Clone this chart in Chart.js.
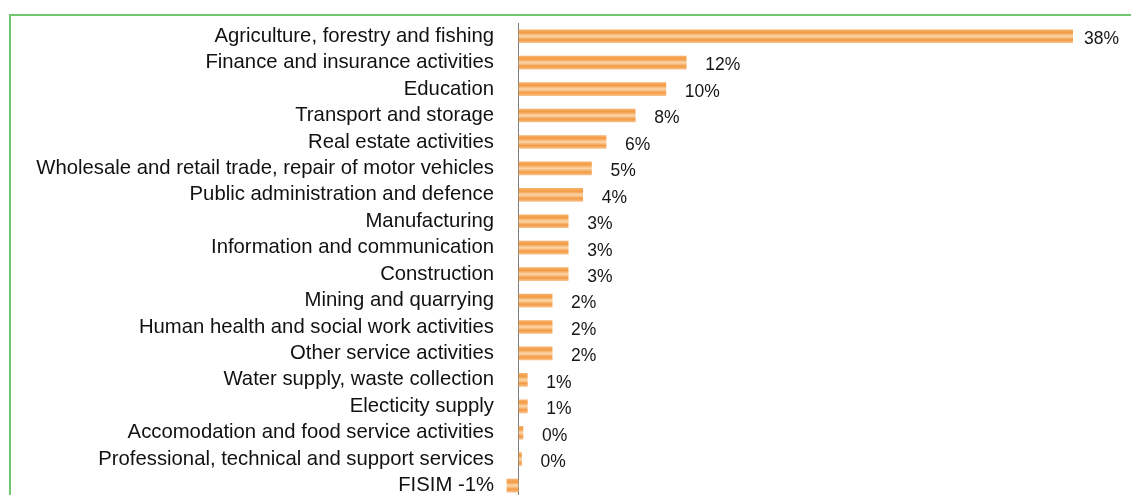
<!DOCTYPE html>
<html>
<head>
<meta charset="utf-8">
<script src="https://cdn.jsdelivr.net/npm/chart.js@4/dist/chart.umd.min.js"></script>
<style>
  html, body { margin: 0; padding: 0; background: #fff; overflow: hidden; }
  #wrap { position: absolute; left: 0; top: 0; width: 1131px; height: 521px; }
  #frame { position: absolute; left: 9px; top: 14px; width: 1200px; height: 600px;
           border-left: 2px solid #72c672; border-top: 2px solid #72c672; }
</style>
</head>
<body>
<div id="frame"></div>
<div id="wrap"><canvas id="sectorChart"></canvas></div>
<script>
// share of growth by sector, %
const sectors = [
  "Agriculture, forestry and fishing",
  "Finance and insurance activities",
  "Education",
  "Transport and storage",
  "Real estate activities",
  "Wholesale and retail trade, repair of motor vehicles",
  "Public administration and defence",
  "Manufacturing",
  "Information and communication",
  "Construction",
  "Mining and quarrying",
  "Human health and social work activities",
  "Other service activities",
  "Water supply, waste collection",
  "Electicity supply",
  "Accomodation and food service activities",
  "Professional, technical and support services",
  "FISIM"
];
const shares = [38.0, 11.5, 10.1, 8.0, 6.0, 5.0, 4.4, 3.4, 3.4, 3.4, 2.3, 2.3, 2.3, 0.6, 0.6, 0.3, 0.2, -0.8];

const fmt = v => Math.round(v) + '%';

// orange bars with a light streak through the middle
function barFill(c) {
  const chart = c.chart;
  if (!chart.chartArea || c.dataIndex == null) return '#f6a655';
  const y = chart.scales.y.getPixelForValue(c.dataIndex);
  const g = chart.ctx.createLinearGradient(0, y - 6.5, 0, y + 6.5);
  g.addColorStop(0, '#f7b06a');
  g.addColorStop(0.22, '#f39a42');
  g.addColorStop(0.5, '#fcd6aa');
  g.addColorStop(0.78, '#f29a44');
  g.addColorStop(1, '#f8bf86');
  return g;
}

// percent labels to the right of positive bars
const valueLabels = {
  id: 'valueLabels',
  afterDatasetsDraw(chart) {
    const ctx = chart.ctx;
    const meta = chart.getDatasetMeta(0);
    ctx.save();
    ctx.font = '17.5px "Liberation Sans", Arial, sans-serif';
    ctx.fillStyle = '#161616';
    ctx.textBaseline = 'middle';
    meta.data.forEach((bar, i) => {
      const v = shares[i];
      if (v < 0) return;
      const txt = fmt(v);
      const w = ctx.measureText(txt).width;
      let x = bar.x + 19;
      if (x + w > chart.width - 12) x = chart.width - 12 - w;
      ctx.fillText(txt, x, bar.y + 3);
    });
    ctx.restore();
  }
};

new Chart(document.getElementById('sectorChart'), {
  type: 'bar',
  data: {
    labels: sectors,
    datasets: [{
      data: shares,
      backgroundColor: barFill,
      borderWidth: 0,
      barThickness: 13
    }]
  },
  options: {
    indexAxis: 'y',
    responsive: true,
    maintainAspectRatio: false,
    animation: false,
    layout: { padding: { top: 23, bottom: 3, left: 0, right: 0 } },
    plugins: { legend: { display: false }, tooltip: { enabled: false } },
    scales: {
      x: {
        min: -1,
        max: 42,
        ticks: { display: false, stepSize: 1 },
        border: { display: false },
        grid: {
          drawTicks: false,
          lineWidth: 1,
          color: c => c.tick && c.tick.value === 0 ? '#7d7d7d' : 'rgba(0,0,0,0)'
        },
        afterFit: s => { s.height = 0; }
      },
      y: {
        ticks: {
          color: '#111111',
          padding: 10,
          font: { family: '"Liberation Sans", Arial, sans-serif', size: 20.3 },
          callback: function (v, i) {
            const name = this.getLabelForValue(v);
            return shares[i] < 0 ? name + ' ' + fmt(shares[i]) : name;
          }
        },
        grid: { display: false, drawTicks: false },
        border: { display: false },
        afterFit: s => { s.width = 504; }
      }
    }
  },
  plugins: [valueLabels]
});
</script>
</body>
</html>
